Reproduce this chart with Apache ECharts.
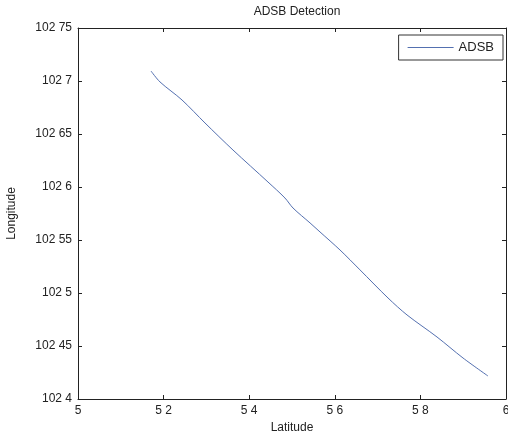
<!DOCTYPE html>
<html>
<head>
<meta charset="utf-8">
<script src="https://cdn.jsdelivr.net/npm/echarts@6/dist/echarts.min.js"></script>
<style>html,body{margin:0;padding:0;background:#fff;}#c{width:508px;height:437px;}</style>
</head>
<body>
<div id="c"></div>
<script>
var latitude = [5.1706, 5.1916, 5.2430, 5.2967, 5.3621, 5.4439, 5.4836, 5.5023, 5.5421, 5.5654, 5.6121, 5.6589, 5.7243, 5.7687, 5.8388, 5.8995, 5.9579];
var longitude = [102.7094, 102.6991, 102.6821, 102.6604, 102.6349, 102.6047, 102.5896, 102.5802, 102.5661, 102.5576, 102.5406, 102.5218, 102.4953, 102.4793, 102.4585, 102.4387, 102.4217];
var xTickLabels = ['5', '5 2', '5 4', '5 6', '5 8', '6'];
var yTickLabels = ['102 4', '102 45', '102 5', '102 55', '102 6', '102 65', '102 7', '102 75'];
var seriesName = 'ADSB';

var data = latitude.map(function (v, i) { return [v, longitude[i]]; });
var font = 'Liberation Sans, Arial, sans-serif';
var txt = '#222';
function xl(v) { return xTickLabels[Math.round((v - 5) / 0.2)]; }
function yl(v) { return yTickLabels[Math.round((v - 102.4) / 0.05)]; }

var chart = echarts.init(document.getElementById('c'));
var axLine = { show: true, lineStyle: { color: '#222', width: 1 } };
var tick = { show: true, inside: true, length: 4, lineStyle: { color: '#222' } };
chart.setOption({
  animation: false,
  backgroundColor: '#fff',
  title: {
    text: 'ADSB Detection', left: 292, top: 1, textAlign: 'center',
    textStyle: { fontFamily: font, fontSize: 12, fontWeight: 'normal', color: txt }
  },
  legend: {
    data: [seriesName], right: 5, top: 35, orient: 'vertical',
    backgroundColor: '#fff', borderColor: '#333', borderWidth: 1,
    padding: [6, 9, 6, 9], itemWidth: 46, itemHeight: 1, itemGap: 0,
    icon: 'rect',
    textStyle: { fontFamily: font, fontSize: 13, color: txt }
  },
  grid: { left: 78, right: 2, top: 28, bottom: 38, outerBoundsMode: 'none', containLabel: false },
  xAxis: [{
    type: 'value', min: 5, max: 6, interval: 0.2,
    name: 'Latitude', nameLocation: 'middle', nameGap: 22,
    nameTextStyle: { fontFamily: font, fontSize: 12, color: txt },
    axisLine: axLine, axisTick: tick, splitLine: { show: false },
    axisLabel: { formatter: xl, fontFamily: font, fontSize: 12, color: txt, margin: 6 }
  }, {
    type: 'value', min: 5, max: 6, interval: 0.2, position: 'top',
    axisLine: axLine, axisTick: tick, splitLine: { show: false }, axisLabel: { show: false }
  }],
  yAxis: [{
    type: 'value', min: 102.4, max: 102.75, interval: 0.05,
    name: 'Longitude', nameLocation: 'middle', nameGap: 60, nameRotate: 90,
    nameTextStyle: { fontFamily: font, fontSize: 12, color: txt },
    axisLine: axLine, axisTick: tick, splitLine: { show: false },
    axisLabel: { formatter: yl, fontFamily: font, fontSize: 12, color: txt, margin: 6 }
  }, {
    type: 'value', min: 102.4, max: 102.75, interval: 0.05, position: 'right',
    axisLine: axLine, axisTick: tick, splitLine: { show: false }, axisLabel: { show: false }
  }],
  series: [{
    name: seriesName, type: 'line', data: data, showSymbol: false, smooth: 0.3,
    lineStyle: { color: '#5470b0', width: 1 }, itemStyle: { color: '#5470b0' }
  }]
});
</script>
</body>
</html>
